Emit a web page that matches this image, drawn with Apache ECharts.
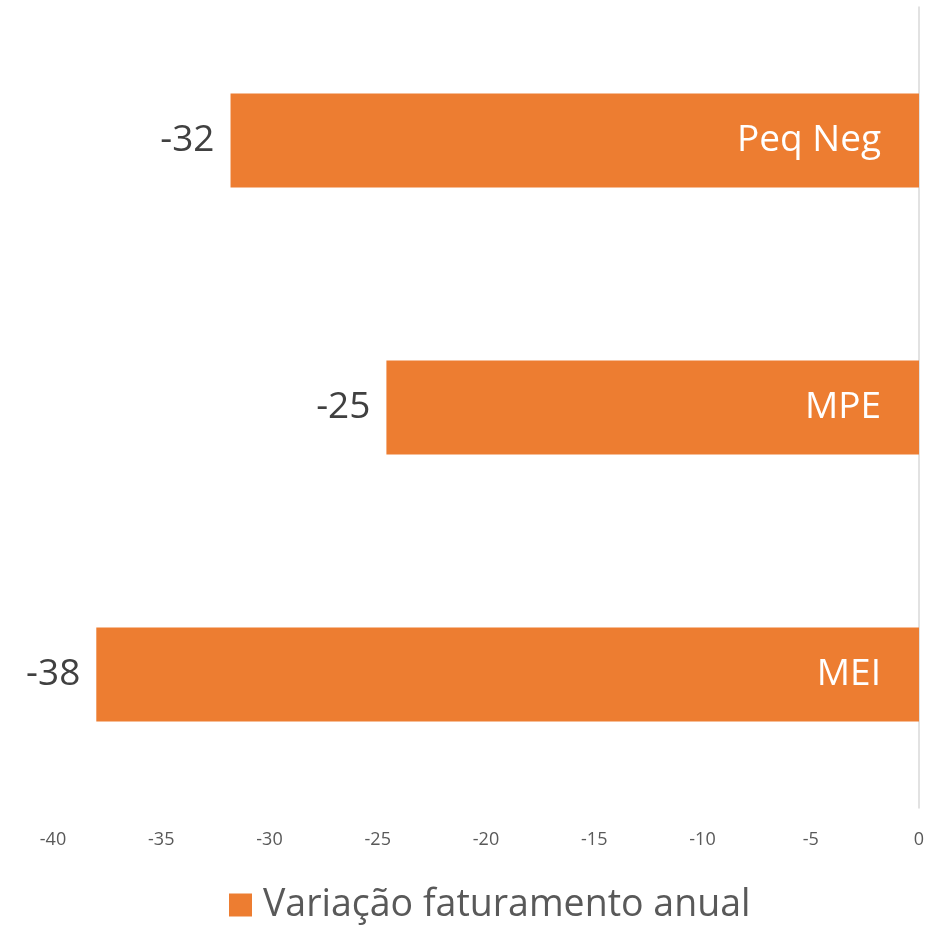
<!DOCTYPE html>
<html>
<head>
<meta charset="utf-8">
<script src="https://cdn.jsdelivr.net/npm/echarts@6/dist/echarts.min.js"></script>
<style>
  html, body { margin: 0; padding: 0; background: #fff; }
  #chart { width: 937px; height: 926px; }
</style>
</head>
<body>
<div id="chart"></div>
<script>
// categories bottom-to-top (as drawn by the axis)
const categories = ["MEI", "MPE", "Peq Neg"];
const variacao = [-38.0, -24.6, -31.8];
const seriesName = "Variação faturamento anual";

const FONT = "'Open Sans', 'Noto Sans', sans-serif";

const chart = echarts.init(document.getElementById("chart"));
chart.setOption({
    animation: false,
    textStyle: { fontFamily: FONT },
    grid: { left: 53, right: 18, top: 7, bottom: 118 },
    legend: {
        data: [seriesName],
        icon: "rect",
        top: 881,
        left: 224,
        itemWidth: 23,
        itemHeight: 23,
        textStyle: {
            fontSize: 37.5,
            color: "#595959",
            fontFamily: FONT,
            padding: [0, 0, 0, 6]
        }
    },
    xAxis: {
        type: "value",
        min: -40,
        max: 0,
        interval: 5,
        axisLine: { show: false },
        axisTick: { show: false },
        splitLine: { show: false },
        axisLabel: { fontSize: 18, color: "#595959", margin: 23, fontFamily: FONT }
    },
    yAxis: {
        type: "category",
        data: categories,
        axisLine: { show: true, lineStyle: { color: "#d9d9d9", width: 1.5 } },
        axisTick: { show: false },
        axisLabel: { show: false }
    },
    series: [
        {
            name: seriesName,
            type: "bar",
            data: variacao,
            barWidth: 94,
            itemStyle: { color: "#ED7D31" },
            label: {
                show: true,
                position: "left",
                distance: 16,
                fontSize: 37,
                color: "#404040",
                fontFamily: FONT,
                formatter: p => Math.round(p.value)
            }
        },
        {
            name: "categoria",
            type: "bar",
            data: variacao,
            barWidth: 94,
            barGap: "-100%",
            itemStyle: { color: "rgba(0,0,0,0)" },
            silent: true,
            label: {
                show: true,
                position: "insideRight",
                distance: 38,
                fontSize: 37,
                color: "#ffffff",
                fontFamily: FONT,
                formatter: p => p.name
            }
        }
    ]
});
</script>
</body>
</html>
